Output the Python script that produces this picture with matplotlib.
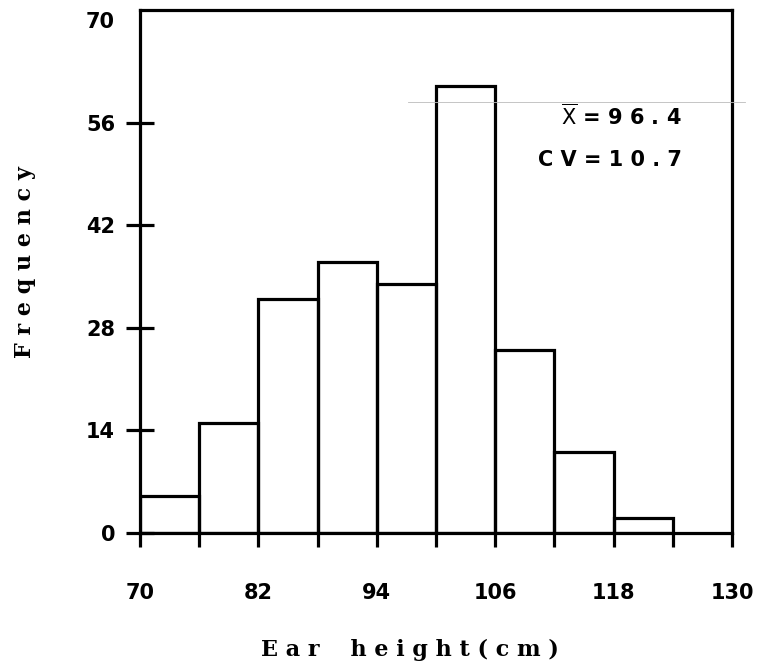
import matplotlib
matplotlib.use("Agg")
import matplotlib.pyplot as plt
from matplotlib.lines import Line2D

# Data
bin_left = [70, 76, 82, 88, 94, 100, 106, 112, 118]
bin_width = 6
frequency = [5, 15, 32, 37, 34, 61, 25, 11, 2]
xticks_major = [70, 82, 94, 106, 118, 130]
xticks_minor = [76, 88, 100, 112, 124]
yticks = [0, 14, 28, 42, 56, 70]
stats_text = [r"$\overline{\mathrm{X}}$ = 9 6 . 4", "C V = 1 0 . 7"]

fig = plt.figure(figsize=(7.66, 6.70), dpi=100)
ax = fig.add_axes([140/766, 137/670, 592/766, 523/670])

lw = 2.3
ax.bar(bin_left, frequency, width=bin_width, align="edge", fill=False,
       edgecolor="black", linewidth=lw, zorder=3)

ax.set_xlim(70, 130)
ax.set_ylim(0, 71.4)
for s in ax.spines.values():
    s.set_linewidth(lw)

ax.set_xticks(xticks_major)
ax.set_xticks(xticks_minor, minor=True)
ax.set_yticks(yticks)
ax.tick_params(axis="x", which="both", direction="out", length=10, width=lw,
               pad=26, labelsize=15)
ax.tick_params(axis="y", which="major", direction="inout", length=20, width=lw,
               pad=8, labelsize=15)
ax.yaxis.get_major_ticks()[-1].tick1line.set_visible(False)

for lab in ax.get_xticklabels() + ax.get_yticklabels():
    lab.set_fontweight("bold")
    lab.set_fontfamily("DejaVu Sans")

fig.text(25/766, 1 - 262/670, "F r e q u e n c y", rotation=90, fontsize=16,
         fontweight="bold", family="DejaVu Serif", ha="center", va="center")
fig.text(410/766, 1 - 650/670, "E a r    h e i g h t ( c m )", fontsize=16,
         fontweight="bold", family="DejaVu Serif", ha="center", va="center")

for txt, ypix in zip(stats_text, [116, 160]):
    fig.text(682/766, 1 - ypix/670, txt, ha="right", va="center",
             fontsize=15, fontweight="bold")

# faint scan line
fig.add_artist(Line2D([408/766, 745/766], [1 - 102/670, 1 - 102/670],
                      color="#bbbbbb", linewidth=0.6))

fig.savefig("out.png", dpi=100)
